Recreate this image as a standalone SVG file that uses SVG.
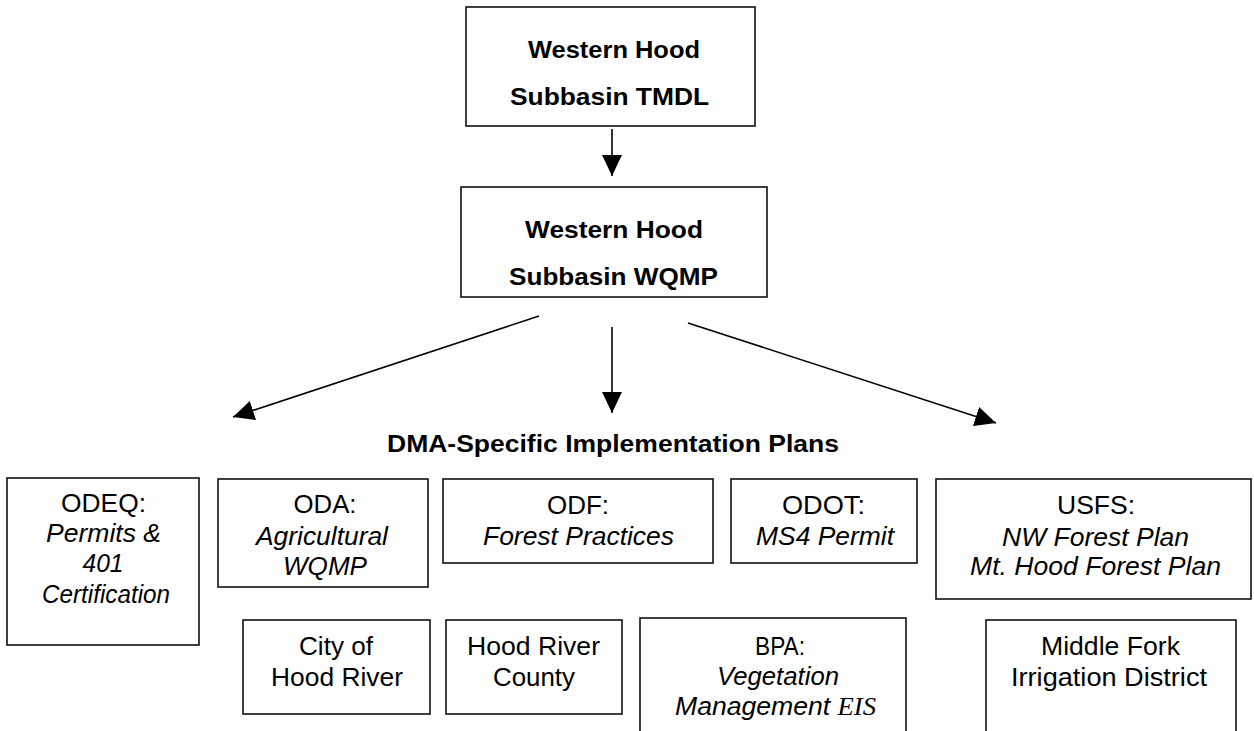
<svg xmlns="http://www.w3.org/2000/svg" width="1254" height="731" viewBox="0 0 1254 731">
<defs>
<marker id="ah" markerUnits="userSpaceOnUse" markerWidth="21" markerHeight="21" refX="20" refY="10" orient="auto" viewBox="0 0 20 20">
<path d="M0,0.5 L20,10 L0,19.5 z" fill="#000"/>
</marker>
<style>
.box{fill:#fff;stroke:#111;stroke-width:1.6}
.b{font-family:"Liberation Sans",Arial,sans-serif;font-weight:bold;font-size:23px;fill:#000;text-anchor:middle}
.t{font-family:"Liberation Sans",Arial,sans-serif;font-size:25px;fill:#000;text-anchor:middle}
.t2{font-family:"Liberation Sans",Arial,sans-serif;font-size:26px;fill:#000;text-anchor:middle}
.i{font-style:italic}
.conn{stroke:#000;stroke-width:1.6;fill:none;marker-end:url(#ah)}
</style>
</defs>
<rect width="1254" height="731" fill="#fff"/>
<g id="connectors">
<line class="conn" x1="612" y1="129" x2="612" y2="176"/>
<line class="conn" x1="612" y1="327" x2="612" y2="413"/>
<line class="conn" x1="539" y1="316" x2="233" y2="417"/>
<line class="conn" x1="688" y1="323" x2="996" y2="423"/>
</g>
<g id="tmdl">
<rect class="box" x="466" y="7" width="289" height="119"/>
<text class="b" x="614" y="58" textLength="172" lengthAdjust="spacingAndGlyphs">Western Hood</text>
<text class="b" x="609.5" y="105" textLength="199" lengthAdjust="spacingAndGlyphs">Subbasin TMDL</text>
</g>
<g id="wqmp">
<rect class="box" x="461" y="187" width="306" height="110"/>
<text class="b" x="614" y="238" textLength="178" lengthAdjust="spacingAndGlyphs">Western Hood</text>
<text class="b" x="613.5" y="285" textLength="209" lengthAdjust="spacingAndGlyphs">Subbasin WQMP</text>
</g>
<g id="dma-title">
<text class="b" x="613" y="452" textLength="452" lengthAdjust="spacingAndGlyphs">DMA-Specific Implementation Plans</text>
</g>
<g id="odeq">
<rect class="box" x="7" y="478" width="192" height="167"/>
<text class="t" x="103.5" y="512" textLength="85" lengthAdjust="spacingAndGlyphs">ODEQ:</text>
<text class="t i" x="103.5" y="542" textLength="115" lengthAdjust="spacingAndGlyphs">Permits &amp;</text>
<text class="t i" x="103" y="572" textLength="41" lengthAdjust="spacingAndGlyphs">401</text>
<text class="t i" x="106" y="603" textLength="128" lengthAdjust="spacingAndGlyphs">Certification</text>
</g>
<g id="oda">
<rect class="box" x="218" y="479" width="210" height="108"/>
<text class="t" x="325" y="513" textLength="63" lengthAdjust="spacingAndGlyphs">ODA:</text>
<text class="t i" x="322" y="545" textLength="132" lengthAdjust="spacingAndGlyphs">Agricultural</text>
<text class="t i" x="325" y="575" textLength="84" lengthAdjust="spacingAndGlyphs">WQMP</text>
</g>
<g id="odf">
<rect class="box" x="443" y="479" width="270" height="84"/>
<text class="t" x="578" y="514" textLength="62" lengthAdjust="spacingAndGlyphs">ODF:</text>
<text class="t i" x="578.5" y="545" textLength="191" lengthAdjust="spacingAndGlyphs">Forest Practices</text>
</g>
<g id="odot">
<rect class="box" x="731" y="479" width="186" height="84"/>
<text class="t" x="823.5" y="514" textLength="83" lengthAdjust="spacingAndGlyphs">ODOT:</text>
<text class="t i" x="825" y="545" textLength="138" lengthAdjust="spacingAndGlyphs">MS4 Permit</text>
</g>
<g id="usfs">
<rect class="box" x="936" y="479" width="315" height="120"/>
<text class="t" x="1096" y="514" textLength="78" lengthAdjust="spacingAndGlyphs">USFS:</text>
<text class="t i" x="1095.5" y="546" textLength="187" lengthAdjust="spacingAndGlyphs">NW Forest Plan</text>
<text class="t i" x="1095.5" y="575" textLength="251" lengthAdjust="spacingAndGlyphs">Mt. Hood Forest Plan</text>
</g>
<g id="city">
<rect class="box" x="243" y="620" width="187" height="94"/>
<text class="t2" x="336" y="655" textLength="74" lengthAdjust="spacingAndGlyphs">City of</text>
<text class="t2" x="337" y="686" textLength="132" lengthAdjust="spacingAndGlyphs">Hood River</text>
</g>
<g id="county">
<rect class="box" x="446" y="620" width="176" height="94"/>
<text class="t2" x="533.5" y="655" textLength="133" lengthAdjust="spacingAndGlyphs">Hood River</text>
<text class="t2" x="534" y="686" textLength="82" lengthAdjust="spacingAndGlyphs">County</text>
</g>
<g id="bpa">
<rect class="box" x="640" y="618" width="266" height="130"/>
<text class="t2" x="780" y="655" textLength="50" lengthAdjust="spacingAndGlyphs">BPA:</text>
<text class="t2 i" x="778" y="685" textLength="122" lengthAdjust="spacingAndGlyphs">Vegetation</text>
<text class="t2 i" x="775.5" y="715" textLength="201" lengthAdjust="spacingAndGlyphs">Management <tspan font-family="'Liberation Serif',serif">EIS</tspan></text>
</g>
<g id="middlefork">
<rect class="box" x="986" y="620" width="250" height="130"/>
<text class="t2" x="1110.5" y="655" textLength="139" lengthAdjust="spacingAndGlyphs">Middle Fork</text>
<text class="t2" x="1109" y="686" textLength="196" lengthAdjust="spacingAndGlyphs">Irrigation District</text>
</g>
</svg>
